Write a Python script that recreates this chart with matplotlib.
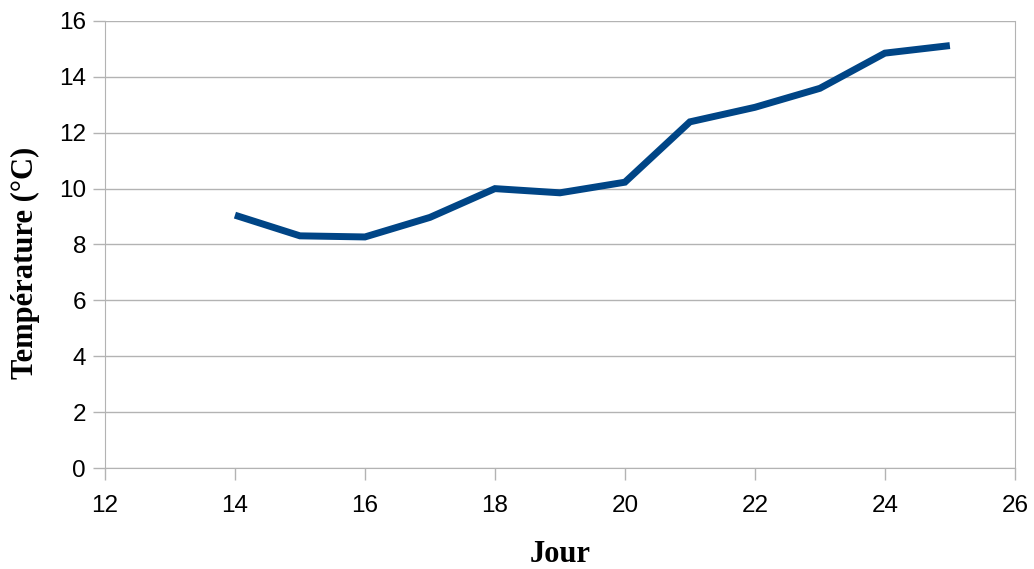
import matplotlib.pyplot as plt

jours = [14, 15, 16, 17, 18, 19, 20, 21, 22, 23, 24, 25]
temperatures = [9.05, 8.31, 8.27, 8.97, 10.0, 9.85, 10.23, 12.39, 12.91, 13.59, 14.85, 15.12]

xticks = [12, 14, 16, 18, 20, 22, 24, 26]
yticks = [0, 2, 4, 6, 8, 10, 12, 14, 16]

fig = plt.figure(figsize=(10.34, 5.69), dpi=100)
ax = fig.add_axes([0.1015, 0.1775, 0.880, 0.7856])

ax.plot(jours, temperatures, color='#004586', linewidth=5, solid_capstyle='butt', solid_joinstyle='miter', zorder=3)

ax.set_xlim(12, 26)
ax.set_ylim(0, 16)
ax.set_xticks(xticks)
ax.set_yticks(yticks)
ax.grid(axis='y', color='#b3b3b3', linewidth=1)
ax.set_axisbelow(True)

for s in ['left', 'bottom', 'right']:
    ax.spines[s].set_color('#b3b3b3')
ax.spines['top'].set_visible(False)
ax.tick_params(axis='both', colors='#b3b3b3', labelcolor='black', length=8.6, width=1,
               labelsize=17.5)
ax.tick_params(axis='x', pad=11)
ax.tick_params(axis='y', pad=5)
for lbl in ax.get_xticklabels() + ax.get_yticklabels():
    lbl.set_family('Liberation Sans')

ax.set_xlabel('Jour', family='Liberation Serif', fontweight='bold', fontsize=22, va='center')
ax.set_ylabel('Température (°C)', family='Liberation Serif', fontweight='bold', fontsize=22, va='center')
ax.xaxis.set_label_coords(0.5, -0.193)
ax.yaxis.set_label_coords(-0.087, 0.46)

fig.savefig('out.png', dpi=100)
